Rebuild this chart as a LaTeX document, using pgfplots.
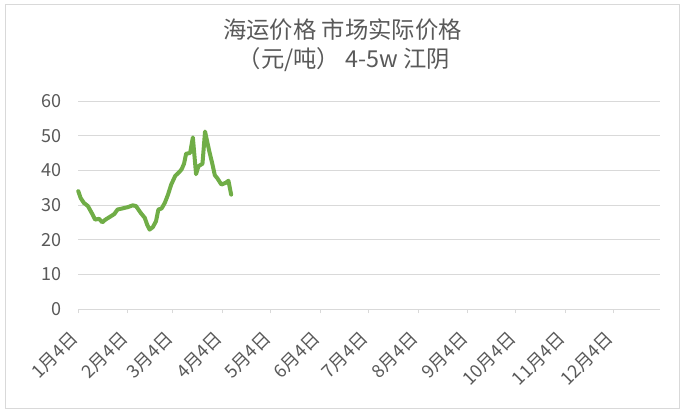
\documentclass[border=0pt]{standalone}
\usepackage{fontspec}
\setmainfont{Noto Sans CJK SC}
\usepackage{pgfplots}
\pgfplotsset{compat=1.18}
\definecolor{txt}{RGB}{89,89,89}
\definecolor{gridc}{RGB}{217,217,217}
\definecolor{linec}{RGB}{112,173,71}

\begin{document}
\begin{tikzpicture}
% page = 685 x 414 px at 0.75pt per px
\path[use as bounding box] (0,0) rectangle (513.75pt,310.5pt);
\draw[gridc, line width=0.75pt] (3.75pt,4.5pt) rectangle (509.25pt,306.75pt);

\node[text=txt, font=\fontsize{17.5}{17.5}\selectfont] at (256.9pt,288pt) {海运价格 市场实际价格};
\node[text=txt, font=\fontsize{17.5}{17.5}\selectfont] at (258pt,265.5pt) {（元/吨） 4-5w 江阴};

\begin{axis}[
    at={(58.7pt,78.75pt)}, anchor=south west,
    scale only axis,
    width=436.3pt, height=156pt,
    xmin=0, xmax=363,
    ymin=0, ymax=60,
    xtick={0,31,59,90,120,151,181,212,243,273,304,334},
    xticklabels={1月4日,2月4日,3月4日,4月4日,5月4日,6月4日,7月4日,8月4日,9月4日,10月4日,11月4日,12月4日},
    ytick={0,10,20,30,40,50,60},
    axis x line*=bottom,
    axis y line*=left,
    y axis line style={draw=none},
    x axis line style={gridc, line width=0.75pt},
    ytick style={draw=none},
    xtick style={gridc, line width=0.75pt},
    tick align=outside,
    major tick length=3pt,
    ymajorgrids,
    major grid style={gridc, line width=0.75pt},
    xticklabel style={yshift=-14pt, xshift=0pt, rotate=45, anchor=east, text=txt, font=\fontsize{13.5}{13.5}\selectfont},
    yticklabel style={text=txt, font=\fontsize{13.5}{13.5}\selectfont, xshift=-6pt},
    /pgf/number format/assume math mode=true,
    clip=false,
]
\addplot[linec, line width=3pt, line join=round, line cap=round] coordinates {
    (0,34.0) (1.5,32.0) (3.5,30.6) (6,29.7) (9,27.2) (10.5,25.8) (13,26.0)
    (15,25.0) (17,25.8) (20.5,26.8) (22.5,27.4) (24.5,28.7) (27.5,29.0)
    (31,29.4) (34,29.9) (36,29.7) (39,27.7) (41.5,26.3) (43,24.3) (44.5,22.9)
    (46.5,23.6) (48.5,25.3) (50,28.7) (52,29.0) (54,30.6) (56,33.0) (58,35.9)
    (60.5,38.4) (63,39.5) (64.5,40.3) (66,41.9) (67.3,44.8) (69.8,45.0)
    (71.5,49.5) (73.5,38.9) (75,41.2) (77.5,41.9) (79.1,51.2) (81.8,45.4)
    (83.5,42.2) (85.2,38.6) (86.8,37.7) (89.3,35.9) (92,36.4) (93.7,37.0)
    (95.4,33.0)
};
\end{axis}
\end{tikzpicture}
\end{document}
